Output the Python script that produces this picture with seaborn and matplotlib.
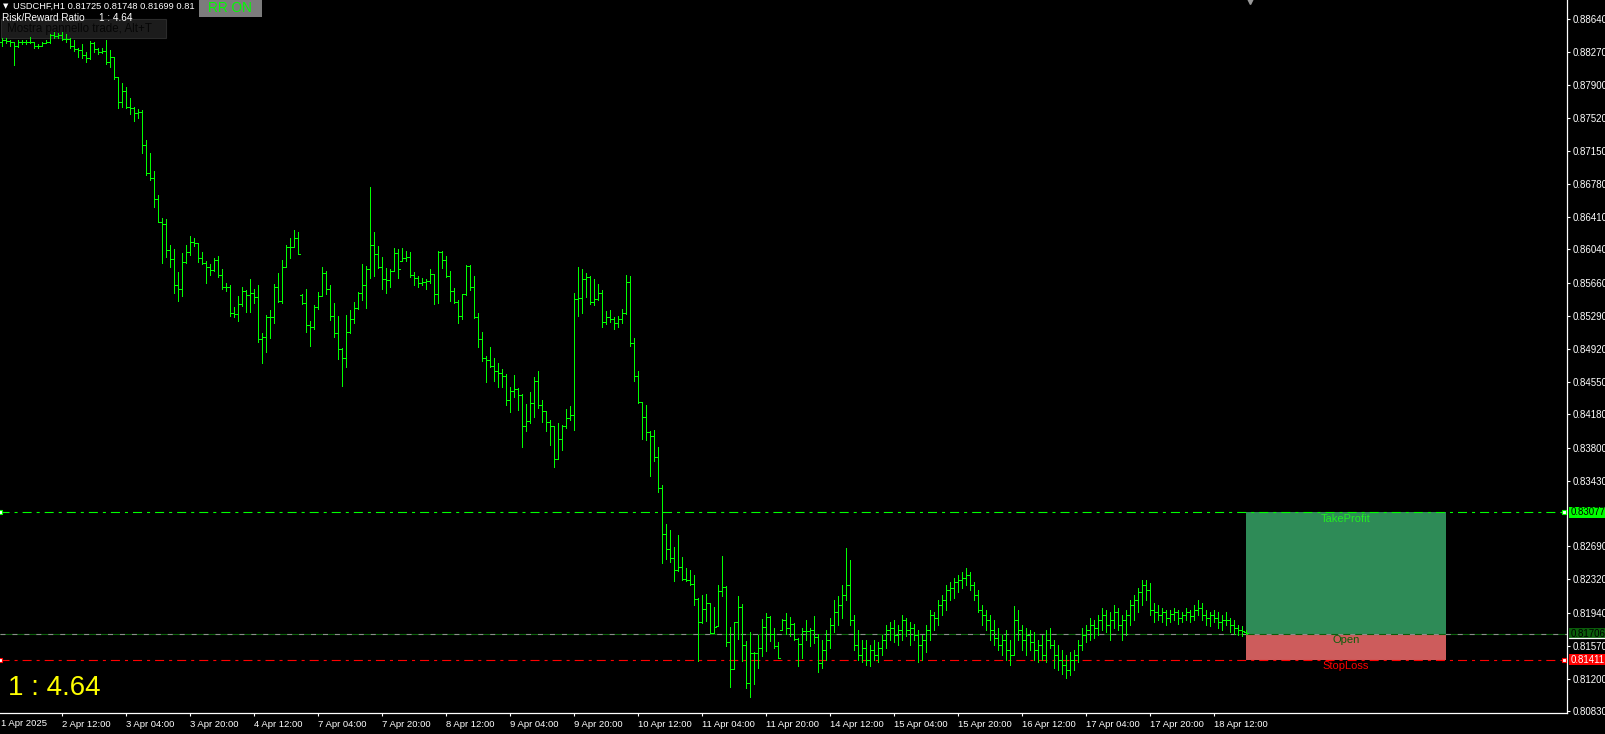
import numpy as np
import matplotlib
matplotlib.use("Agg")
import matplotlib.pyplot as plt
import seaborn as sns
from matplotlib.patches import Rectangle

# ---------------- data (USDCHF H1) ----------------
open_ = [
0.8838,0.8840,0.8839,0.8838,0.8833,0.8838,0.8838,0.8838,0.8838,0.8833,
0.8833,0.8837,0.8838,0.8846,0.8845,0.8846,0.8841,0.8841,0.8833,0.8830,
0.8829,0.8823,0.8820,0.8837,0.8830,0.8827,0.8828,0.8815,0.8821,0.8798,
0.8770,0.8783,0.8765,0.8764,0.8758,0.8759,0.8722,0.8690,0.8685,0.8661,
0.8635,0.8633,0.8603,0.8593,0.8564,0.8559,0.8590,0.8601,0.8612,0.8611,
0.8594,0.8589,0.8584,0.8581,0.8592,0.8575,0.8562,0.8562,0.8532,0.8531,
0.8542,0.8557,0.8553,0.8555,0.8550,0.8503,0.8505,0.8528,0.8528,0.8562,
0.8546,0.8584,0.8607,0.8607,0.8617,0.8553,0.8544,0.8519,0.8516,0.8539,
0.8551,0.8577,0.8559,0.8529,0.8510,0.8492,0.8482,0.8511,0.8526,0.8538,
0.8555,0.8564,0.8582,0.8609,0.8599,0.8584,0.8571,0.8570,0.8580,0.8600,
0.8591,0.8594,0.8595,0.8575,0.8572,0.8566,0.8567,0.8568,0.8576,0.8554,
0.8601,0.8592,0.8574,0.8557,0.8545,0.8529,0.8554,0.8585,0.8562,0.8528,
0.8503,0.8482,0.8479,0.8473,0.8467,0.8465,0.8461,0.8434,0.8444,0.8447,
0.8440,0.8405,0.8410,0.8431,0.8456,0.8429,0.8422,0.8409,0.8405,0.8368,
0.8390,0.8405,0.8414,0.8417,0.8548,0.8549,0.8571,0.8573,0.8545,0.8548,
0.8555,0.8522,0.8528,0.8526,0.8521,0.8526,0.8532,0.8567,0.8498,0.8461,
0.8432,0.8415,0.8398,0.8394,0.8370,0.8335,0.8283,0.8266,0.8256,0.8242,
0.8246,0.8232,0.8231,0.8227,0.8210,0.8184,0.8198,0.8205,0.8171,0.8179,
0.8219,0.8223,0.8161,0.8131,0.8184,0.8201,0.8158,0.8115,0.8149,0.8149,
0.8154,0.8178,0.8189,0.8170,0.8157,0.8175,0.8186,0.8177,0.8181,0.8165,
0.8159,0.8174,0.8174,0.8175,0.8167,0.8137,0.8152,0.8164,0.8180,0.8195,
0.8203,0.8214,0.8225,0.8186,0.8158,0.8147,0.8154,0.8141,0.8152,0.8147,
0.8154,0.8164,0.8175,0.8177,0.8169,0.8175,0.8186,0.8175,0.8177,0.8169,
0.8158,0.8164,0.8175,0.8192,0.8188,0.8203,0.8209,0.8220,0.8222,0.8229,
0.8231,0.8233,0.8237,0.8225,0.8214,0.8197,0.8192,0.8186,0.8175,0.8166,
0.8158,0.8164,0.8152,0.8147,0.8186,0.8175,0.8164,0.8169,0.8161,0.8152,
0.8158,0.8147,0.8164,0.8158,0.8147,0.8141,0.8135,0.8130,0.8141,0.8147,
0.8158,0.8169,0.8175,0.8180,0.8177,0.8186,0.8192,0.8180,0.8186,0.8195,
0.8180,0.8186,0.8192,0.8203,0.8209,0.8218,0.8225,0.8220,0.8197,0.8195,
0.8192,0.8195,0.8188,0.8193,0.8195,0.8188,0.8192,0.8195,0.8191,0.8197,
0.8200,0.8192,0.8188,0.8192,0.8188,0.8184,0.8186,0.8186,0.8180,0.8177,
0.8175,0.8172]

high = [
0.8842,0.8842,0.8840,0.8838,0.8840,0.8840,0.8840,0.8844,0.8838,0.8836,
0.8838,0.8840,0.8847,0.8849,0.8848,0.8849,0.8847,0.8842,0.8840,0.8831,
0.8836,0.8827,0.8839,0.8838,0.8831,0.8831,0.8840,0.8829,0.8821,0.8798,
0.8792,0.8787,0.8775,0.8765,0.8762,0.8761,0.8727,0.8713,0.8692,0.8665,
0.8639,0.8638,0.8609,0.8604,0.8579,0.8600,0.8609,0.8619,0.8617,0.8611,
0.8601,0.8591,0.8588,0.8594,0.8597,0.8582,0.8566,0.8564,0.8539,0.8551,
0.8562,0.8558,0.8571,0.8559,0.8564,0.8510,0.8530,0.8536,0.8565,0.8577,
0.8592,0.8609,0.8617,0.8626,0.8624,0.8554,0.8559,0.8523,0.8541,0.8556,
0.8584,0.8580,0.8564,0.8544,0.8529,0.8493,0.8530,0.8536,0.8545,0.8556,
0.8588,0.8585,0.8674,0.8624,0.8608,0.8595,0.8583,0.8582,0.8606,0.8604,
0.8606,0.8602,0.8601,0.8579,0.8574,0.8572,0.8571,0.8582,0.8576,0.8602,
0.8602,0.8597,0.8580,0.8560,0.8547,0.8554,0.8586,0.8586,0.8574,0.8532,
0.8511,0.8484,0.8494,0.8482,0.8476,0.8469,0.8463,0.8449,0.8462,0.8448,
0.8441,0.8430,0.8443,0.8460,0.8467,0.8434,0.8422,0.8412,0.8405,0.8408,
0.8406,0.8424,0.8427,0.8555,0.8584,0.8582,0.8577,0.8574,0.8571,0.8565,
0.8558,0.8535,0.8536,0.8528,0.8529,0.8537,0.8575,0.8574,0.8504,0.8467,
0.8432,0.8429,0.8399,0.8400,0.8381,0.8338,0.8294,0.8288,0.8268,0.8282,
0.8257,0.8245,0.8242,0.8237,0.8211,0.8214,0.8215,0.8205,0.8201,0.8225,
0.8258,0.8224,0.8178,0.8184,0.8213,0.8204,0.8162,0.8172,0.8150,0.8169,
0.8187,0.8194,0.8191,0.8177,0.8161,0.8187,0.8194,0.8189,0.8183,0.8166,
0.8177,0.8186,0.8177,0.8191,0.8170,0.8164,0.8175,0.8188,0.8209,0.8213,
0.8225,0.8267,0.8254,0.8192,0.8175,0.8164,0.8164,0.8158,0.8164,0.8161,
0.8169,0.8180,0.8184,0.8186,0.8180,0.8192,0.8188,0.8184,0.8182,0.8175,
0.8169,0.8180,0.8197,0.8195,0.8209,0.8214,0.8225,0.8229,0.8233,0.8237,
0.8240,0.8245,0.8240,0.8229,0.8220,0.8203,0.8197,0.8192,0.8186,0.8177,
0.8169,0.8175,0.8164,0.8202,0.8197,0.8180,0.8177,0.8175,0.8173,0.8164,
0.8169,0.8175,0.8177,0.8164,0.8158,0.8152,0.8147,0.8150,0.8152,0.8164,
0.8177,0.8180,0.8188,0.8186,0.8192,0.8200,0.8197,0.8195,0.8203,0.8200,
0.8192,0.8197,0.8209,0.8214,0.8222,0.8231,0.8231,0.8228,0.8205,0.8203,
0.8200,0.8197,0.8197,0.8200,0.8197,0.8195,0.8200,0.8197,0.8203,0.8209,
0.8205,0.8197,0.8195,0.8197,0.8195,0.8192,0.8195,0.8188,0.8186,0.8180,
0.8179,0.8175]

low = [
0.8833,0.8837,0.8833,0.8812,0.8832,0.8836,0.8836,0.8837,0.8831,0.8831,
0.8833,0.8837,0.8837,0.8842,0.8842,0.8840,0.8838,0.8831,0.8828,0.8821,
0.8820,0.8815,0.8819,0.8827,0.8824,0.8826,0.8813,0.8810,0.8796,0.8764,
0.8765,0.8764,0.8757,0.8749,0.8752,0.8713,0.8688,0.8682,0.8652,0.8635,
0.8589,0.8595,0.8584,0.8555,0.8546,0.8551,0.8589,0.8598,0.8608,0.8590,
0.8588,0.8566,0.8575,0.8580,0.8573,0.8559,0.8557,0.8529,0.8528,0.8523,
0.8540,0.8533,0.8533,0.8544,0.8500,0.8476,0.8488,0.8504,0.8521,0.8545,
0.8544,0.8584,0.8594,0.8607,0.8599,0.8542,0.8511,0.8495,0.8514,0.8537,
0.8551,0.8554,0.8524,0.8505,0.8480,0.8450,0.8471,0.8510,0.8521,0.8537,
0.8547,0.8538,0.8572,0.8574,0.8583,0.8559,0.8555,0.8562,0.8580,0.8572,
0.8591,0.8591,0.8573,0.8564,0.8562,0.8564,0.8559,0.8566,0.8542,0.8544,
0.8583,0.8573,0.8546,0.8544,0.8521,0.8526,0.8553,0.8558,0.8527,0.8494,
0.8478,0.8454,0.8471,0.8456,0.8449,0.8449,0.8429,0.8421,0.8438,0.8423,
0.8381,0.8399,0.8408,0.8415,0.8425,0.8409,0.8399,0.8383,0.8359,0.8368,
0.8378,0.8403,0.8412,0.8400,0.8529,0.8532,0.8550,0.8542,0.8541,0.8547,
0.8516,0.8520,0.8522,0.8514,0.8516,0.8521,0.8531,0.8495,0.8456,0.8431,
0.8390,0.8389,0.8348,0.8365,0.8330,0.8250,0.8255,0.8251,0.8230,0.8241,
0.8231,0.8230,0.8225,0.8203,0.8140,0.8183,0.8185,0.8171,0.8171,0.8179,
0.8213,0.8157,0.8110,0.8131,0.8165,0.8140,0.8109,0.8099,0.8114,0.8132,
0.8145,0.8151,0.8162,0.8154,0.8143,0.8175,0.8170,0.8168,0.8163,0.8134,
0.8143,0.8163,0.8157,0.8160,0.8127,0.8132,0.8141,0.8154,0.8173,0.8180,
0.8188,0.8209,0.8180,0.8152,0.8141,0.8139,0.8135,0.8134,0.8141,0.8139,
0.8147,0.8154,0.8164,0.8161,0.8158,0.8164,0.8168,0.8158,0.8164,0.8139,
0.8141,0.8150,0.8164,0.8175,0.8180,0.8192,0.8197,0.8209,0.8211,0.8218,
0.8222,0.8225,0.8220,0.8209,0.8195,0.8180,0.8175,0.8164,0.8158,0.8152,
0.8147,0.8141,0.8135,0.8147,0.8164,0.8152,0.8147,0.8152,0.8141,0.8139,
0.8141,0.8139,0.8154,0.8132,0.8130,0.8125,0.8121,0.8124,0.8130,0.8139,
0.8152,0.8161,0.8164,0.8166,0.8169,0.8175,0.8173,0.8164,0.8177,0.8175,
0.8164,0.8169,0.8180,0.8186,0.8195,0.8203,0.8209,0.8192,0.8184,0.8186,
0.8184,0.8180,0.8184,0.8186,0.8182,0.8184,0.8186,0.8184,0.8186,0.8192,
0.8186,0.8180,0.8179,0.8184,0.8177,0.8175,0.8180,0.8173,0.8170,0.8169,
0.8168,0.8170]

close = [
0.8840,0.8839,0.8838,0.8833,0.8838,0.8838,0.8838,0.8838,0.8833,0.8833,
0.8837,0.8838,0.8846,0.8845,0.8846,0.8841,0.8841,0.8833,0.8830,0.8829,
0.8823,0.8820,0.8837,0.8830,0.8827,0.8828,0.8815,0.8821,0.8798,0.8770,
0.8783,0.8765,0.8764,0.8758,0.8759,0.8722,0.8690,0.8685,0.8661,0.8635,
0.8633,0.8603,0.8593,0.8564,0.8559,0.8590,0.8601,0.8612,0.8611,0.8594,
0.8589,0.8584,0.8581,0.8592,0.8575,0.8562,0.8562,0.8532,0.8531,0.8542,
0.8557,0.8553,0.8555,0.8550,0.8503,0.8505,0.8528,0.8528,0.8562,0.8546,
0.8584,0.8607,0.8607,0.8617,0.8599,0.8544,0.8519,0.8516,0.8539,0.8551,
0.8577,0.8559,0.8529,0.8510,0.8492,0.8482,0.8511,0.8526,0.8538,0.8555,
0.8564,0.8582,0.8609,0.8599,0.8584,0.8571,0.8570,0.8580,0.8600,0.8582,
0.8594,0.8595,0.8575,0.8572,0.8566,0.8567,0.8568,0.8576,0.8554,0.8601,
0.8592,0.8574,0.8557,0.8545,0.8529,0.8554,0.8585,0.8562,0.8528,0.8503,
0.8482,0.8479,0.8473,0.8467,0.8465,0.8461,0.8434,0.8444,0.8447,0.8440,
0.8405,0.8410,0.8431,0.8456,0.8429,0.8422,0.8409,0.8405,0.8368,0.8390,
0.8405,0.8414,0.8417,0.8548,0.8549,0.8571,0.8573,0.8545,0.8548,0.8555,
0.8522,0.8528,0.8526,0.8521,0.8526,0.8532,0.8567,0.8498,0.8461,0.8432,
0.8415,0.8398,0.8394,0.8370,0.8335,0.8283,0.8266,0.8256,0.8242,0.8246,
0.8232,0.8231,0.8227,0.8210,0.8184,0.8198,0.8205,0.8171,0.8178,0.8219,
0.8223,0.8161,0.8131,0.8184,0.8201,0.8158,0.8115,0.8149,0.8149,0.8154,
0.8178,0.8189,0.8170,0.8157,0.8143,0.8186,0.8177,0.8181,0.8165,0.8159,
0.8174,0.8174,0.8175,0.8167,0.8137,0.8152,0.8164,0.8180,0.8195,0.8203,
0.8214,0.8225,0.8186,0.8158,0.8147,0.8154,0.8141,0.8152,0.8147,0.8154,
0.8164,0.8175,0.8177,0.8169,0.8175,0.8186,0.8175,0.8177,0.8169,0.8158,
0.8164,0.8175,0.8192,0.8188,0.8203,0.8209,0.8220,0.8222,0.8229,0.8231,
0.8233,0.8237,0.8225,0.8214,0.8197,0.8192,0.8186,0.8175,0.8166,0.8158,
0.8164,0.8152,0.8147,0.8186,0.8175,0.8164,0.8169,0.8161,0.8152,0.8158,
0.8147,0.8164,0.8158,0.8147,0.8141,0.8135,0.8130,0.8141,0.8147,0.8158,
0.8169,0.8175,0.8180,0.8177,0.8186,0.8192,0.8180,0.8186,0.8195,0.8180,
0.8186,0.8192,0.8203,0.8209,0.8218,0.8225,0.8220,0.8197,0.8195,0.8192,
0.8195,0.8188,0.8193,0.8195,0.8188,0.8192,0.8195,0.8191,0.8197,0.8200,
0.8192,0.8188,0.8192,0.8188,0.8184,0.8186,0.8186,0.8180,0.8177,0.8175,
0.8174,0.8171]

time_labels = ["2 Apr 12:00", "3 Apr 04:00", "3 Apr 20:00", "4 Apr 12:00",
               "7 Apr 04:00", "7 Apr 20:00", "8 Apr 12:00", "9 Apr 04:00",
               "9 Apr 20:00", "10 Apr 12:00", "11 Apr 04:00", "11 Apr 20:00",
               "14 Apr 12:00", "15 Apr 04:00", "15 Apr 20:00", "16 Apr 12:00",
               "17 Apr 04:00", "17 Apr 20:00", "18 Apr 12:00"]
time_label_bars = [15, 31, 47, 63, 79, 95, 111, 127, 143, 159, 175, 191,
                   207, 223, 239, 255, 271, 287, 303]
first_label = "1 Apr 2025"

price_ticks = [0.88640, 0.88270, 0.87900, 0.87520, 0.87150, 0.86780, 0.86410,
               0.86040, 0.85660, 0.85290, 0.84920, 0.84550, 0.84180, 0.83800,
               0.83430, 0.82690, 0.82320, 0.81940, 0.81570, 0.81200, 0.80830]

tp_price = 0.83077
open_price = 0.81706
sl_price = 0.81411
rr_text = "1 : 4.64"
header = "USDCHF,H1 0.81725 0.81748 0.81699 0.81"

# ---------------- figure ----------------
sns.set_theme(style="dark")
plt.rcParams['font.family'] = ['Liberation Sans', 'DejaVu Sans']
plt.rcParams['lines.scale_dashes'] = False

W, H = 1606, 734
fig = plt.figure(figsize=(W / 100, H / 100), dpi=100, facecolor='black')
ax = fig.add_axes([0, 21 / H, 1567 / W, 713 / H])
ax.set_facecolor('none')
ax.set_zorder(2)

n = len(close)
x = np.arange(n)
green = '#00ff00'
ax.vlines(x, low, high, color=green, lw=0.72, antialiased=False, zorder=3)
ax.hlines(open_, x - 0.5, x, color=green, lw=0.72, antialiased=False, zorder=3)
ax.hlines(close, x, x + 0.5, color=green, lw=0.72, antialiased=False, zorder=3)

# trade boxes
box_l, box_w = n - 1, 50
ax.add_patch(Rectangle((box_l, open_price), box_w, tp_price - open_price,
                       facecolor='#2e8b57', edgecolor='none', zorder=1))
ax.add_patch(Rectangle((box_l, sl_price), box_w, open_price - sl_price,
                       facecolor='#cd5c5c', edgecolor='none', zorder=1))
cx = box_l + box_w / 2
ax.text(cx, 0.8300, "TakeProfit", color='#22ee22', fontsize=8, ha='center', va='center', zorder=4)
ax.text(cx, 0.81635, "Open", color='#0b5e0b', fontsize=8, ha='center', va='center', zorder=4)
ax.text(cx, 0.81342, "StopLoss", color='#ff0000', fontsize=8, ha='center', va='center', zorder=4)

# level lines
dashdot = (0, (6.5, 3.6, 2.2, 3.6))
ax.axhline(tp_price, color=green, lw=0.8, ls=dashdot, zorder=2)
ax.axhline(sl_price, color='#ff0000', lw=0.8, ls=dashdot, zorder=2)
ax.axhline(open_price, color='#0b5e0b', lw=0.8, zorder=2)
ax.axhline(open_price, color='#8c8c8c', lw=0.8, ls=(0, (3.6, 5.0)), zorder=2)
for p, c in [(tp_price, green), (sl_price, '#ff0000')]:
    ax.plot([390.5, -0.5], [p, p], ls='none', marker='s', ms=3.2,
            mfc='white', mec=c, mew=0.8, clip_on=False, zorder=5)

# chart shift marker
ax.plot([312], [0.8884], marker='v', ms=4, color='#9a9a9a', ls='none', clip_on=False, zorder=5)

# axes
ax.set_xlim(-0.5, 391.25)
ax.set_ylim(0.80811, 0.88854)
ax.grid(False)
for s in ['top', 'left']:
    ax.spines[s].set_visible(False)
for s in ['right', 'bottom']:
    ax.spines[s].set_visible(True)
    ax.spines[s].set_color('white')
    ax.spines[s].set_linewidth(0.9)

ax.yaxis.tick_right()
ax.set_yticks(price_ticks)
ax.set_yticklabels([f"{p:.5f}" for p in price_ticks])
ax.tick_params(axis='y', which='both', right=True, left=False, colors='white',
               labelcolor='white', length=2.2, width=0.8, pad=1.5, labelsize=7)
ax.set_xticks(time_label_bars)
ax.set_xticklabels(time_labels, ha='left')
ax.tick_params(axis='x', which='both', bottom=True, top=False, colors='white',
               labelcolor='white', length=2.5, width=0.8, pad=2.2, labelsize=6.8)

# price boxes on the axis
ytr = ax.get_yaxis_transform()
for p, bg, fg in [(tp_price, '#00ff00', 'black'),
                  (open_price, '#0b5e0b', 'black'),
                  (sl_price, '#ff0000', 'white')]:
    ax.add_patch(Rectangle((1569 / 1567, p - 0.00062), 40 / 1567, 0.00124,
                           transform=ytr, facecolor=bg, edgecolor='none',
                           clip_on=False, zorder=6))
    ax.text(1571 / 1567, p, f"{p:.5f}", transform=ytr, color=fg, fontsize=7,
            ha='left', va='center', clip_on=False, zorder=7)
ax.plot([1569 / 1567, 1.03], [0.81652, 0.81652], transform=ytr, color='white',
        lw=0.9, clip_on=False, zorder=7)

def fx(px):
    return px / W

def fy(py):
    return 1 - py / H

# bottom first label
fig.text(fx(1), fy(724), first_label, color='white', fontsize=6.8, ha='left', va='center', zorder=5)

# top-left texts (tooltip box sits under the price bars)
fig.patches.append(Rectangle((fx(1), fy(38)), 165 / W, 19 / H, transform=fig.transFigure,
                             facecolor='#1c1c1c', edgecolor='#2b2b2b', lw=0.8, zorder=1))
fig.text(fx(7), fy(29), "Mostra pannello trade, Alt+T", color='#060606', fontsize=8.3,
         ha='left', va='center', zorder=1.5)
fig.text(fx(3), fy(6), "▼", color='white', fontsize=5, ha='left', va='center',
         family=['DejaVu Sans'], zorder=5)
fig.text(fx(13), fy(6), header, color='white', fontsize=6.7, ha='left', va='center', zorder=5)
fig.text(fx(2), fy(18), "Risk/Reward Ratio", color='white', fontsize=7.2, ha='left', va='center', zorder=5)
fig.text(fx(99), fy(18), rr_text, color='white', fontsize=7.2, ha='left', va='center', zorder=5)

# RR ON button
fig.patches.append(Rectangle((fx(199), fy(17)), 63 / W, 17 / H, transform=fig.transFigure,
                             facecolor='#7c7c7c', edgecolor='none', zorder=6))
fig.text(fx(230), fy(8), "RR ON", color='#00ff00', fontsize=9.8, ha='center', va='center', zorder=7)

# big ratio text
fig.text(fx(8), fy(688), rr_text, color='#ffff00', fontsize=20, ha='left', va='center', zorder=5)

fig.savefig("out.png", dpi=100, facecolor='black')
